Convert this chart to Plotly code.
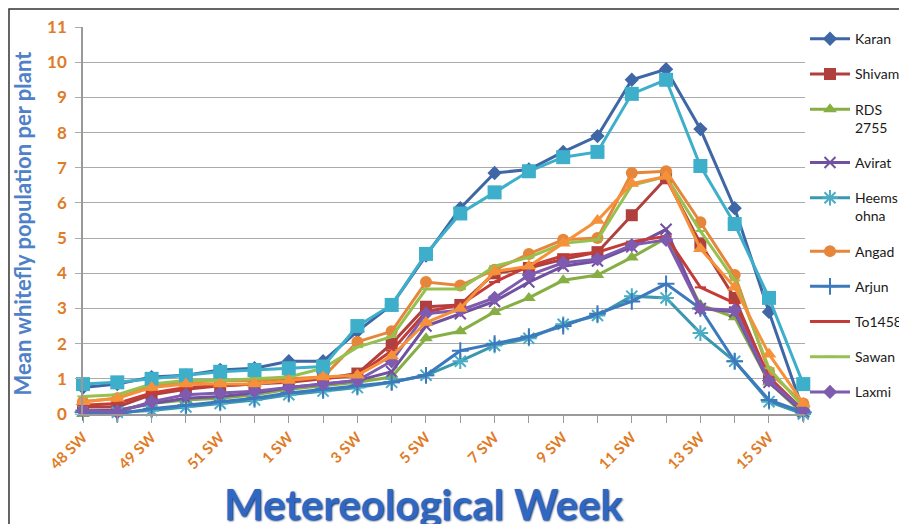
import plotly.graph_objects as go

# ---- data -------------------------------------------------------------
n_points = 22
tick_labels = ["48 SW", "49 SW", "51 SW", "1 SW", "3 SW", "5 SW",
               "7 SW", "9 SW", "11 SW", "13 SW", "15 SW"]

karan      = [0.75, 0.85, 1.05, 1.10, 1.25, 1.30, 1.50, 1.50, 2.35, 3.10, 4.50,
              5.85, 6.85, 6.95, 7.45, 7.90, 9.50, 9.80, 8.10, 5.85, 2.90, 0.10]
shivam     = [0.20, 0.20, 0.55, 0.70, 0.80, 0.85, 0.90, 1.00, 1.15, 2.00, 3.05,
              3.10, 4.00, 4.15, 4.40, 4.60, 5.65, 6.70, 4.85, 3.30, 1.00, 0.10]
rds2755    = [0.00, 0.10, 0.30, 0.40, 0.45, 0.55, 0.70, 0.80, 0.90, 1.05, 2.15,
              2.35, 2.90, 3.30, 3.80, 3.95, 4.45, 5.00, 3.10, 2.75, 0.90, 0.00]
avirat     = [0.10, 0.10, 0.30, 0.45, 0.50, 0.60, 0.75, 0.85, 0.95, 1.20, 2.50,
              2.85, 3.20, 3.75, 4.20, 4.35, 4.75, 5.25, 3.00, 2.90, 0.90, 0.05]
heemsohna  = [0.10, 0.05, 0.10, 0.20, 0.30, 0.40, 0.55, 0.65, 0.75, 0.90, 1.10,
              1.50, 1.95, 2.15, 2.55, 2.80, 3.35, 3.30, 2.30, 1.50, 0.35, 0.00]
angad      = [0.35, 0.45, 0.80, 0.90, 0.95, 0.95, 1.00, 1.05, 2.05, 2.35, 3.75,
              3.65, 4.10, 4.55, 4.95, 5.00, 6.85, 6.90, 5.45, 3.95, 1.20, 0.30]
arjun      = [0.05, 0.00, 0.15, 0.25, 0.35, 0.45, 0.60, 0.70, 0.80, 0.90, 1.10,
              1.80, 2.00, 2.20, 2.50, 2.85, 3.20, 3.70, 3.00, 1.50, 0.40, 0.05]
to1458     = [0.25, 0.30, 0.60, 0.75, 0.80, 0.85, 0.95, 1.00, 1.10, 1.80, 2.90,
              3.10, 3.75, 4.20, 4.50, 4.60, 4.90, 5.05, 3.60, 3.15, 1.05, 0.10]
sawan      = [0.50, 0.55, 0.85, 0.95, 0.95, 1.00, 1.05, 1.30, 1.90, 2.20, 3.55,
              3.55, 4.20, 4.45, 4.85, 4.95, 6.50, 6.75, 5.20, 3.80, 1.30, 0.20]
laxmi      = [0.10, 0.05, 0.35, 0.55, 0.60, 0.65, 0.75, 0.85, 0.95, 1.50, 2.85,
              2.95, 3.30, 3.95, 4.30, 4.40, 4.80, 4.95, 3.00, 2.95, 0.95, 0.10]
series11   = [0.85, 0.90, 1.00, 1.10, 1.20, 1.25, 1.30, 1.35, 2.50, 3.10, 4.55,
              5.70, 6.30, 6.90, 7.30, 7.45, 9.10, 9.50, 7.05, 5.40, 3.30, 0.85]
series12   = [0.35, 0.45, 0.75, 0.85, 0.85, 0.85, 0.95, 1.05, 1.10, 1.65, 2.60,
              3.00, 4.05, 4.20, 4.85, 5.50, 6.55, 6.75, 4.70, 3.60, 1.70, 0.30]

# ---- styling ------------------------------------------------------------
x = list(range(n_points))
tickvals = x[::2]

series = [
    ("Karan", karan, "#3F66A5", "#3F66A5", "diamond", 11, True),
    ("Shivam", shivam, "#B0403D", "#B0403D", "square", 12, True),
    ("RDS<br>2755", rds2755, "#86AE43", "#86AE43", "triangle-up", 12, True),
    ("Avirat", avirat, "#7150A0", "#7150A0", "x-thin-open", 11, True),
    ("Heems<br>ohna", heemsohna, "#3A98AE", "#4BACC6", "asterisk-open", 13, True),
    ("Angad", angad, "#E5863B", "#E5863B", "circle", 12, True),
    ("Arjun", arjun, "#3C79BD", "#3C79BD", "cross-thin-open", 12, True),
    ("To1458", to1458, "#C43B37", "#C43B37", "line-ew-open", 8, True),
    ("Sawan", sawan, "#96C150", "#96C150", "line-ew-open", 8, True),
    ("Laxmi", laxmi, "#7E5BAE", "#7E5BAE", "diamond", 11, True),
    ("Series 11", series11, "#3EAFCB", "#3EAFCB", "square", 14, False),
    ("Series 12", series12, "#F5913A", "#F5913A", "triangle-up", 13, False),
]

fig = go.Figure()
for name, vals, lcol, mcol, sym, size, show in series:
    open_sym = sym.endswith("-open")
    fig.add_trace(go.Scatter(
        x=x, y=vals, name=name, mode="lines+markers",
        legendgroup=name, showlegend=show,
        line=dict(color=lcol, width=3),
        marker=dict(symbol=sym, size=size, color=mcol,
                    line=dict(color=mcol, width=2 if open_sym else 0)),
        cliponaxis=False,
    ))

orange = "#E07B26"
fig.update_layout(
    width=907, height=524,
    margin=dict(l=75, r=110, t=19, b=117.5, autoexpand=False),
    paper_bgcolor="white", plot_bgcolor="white",
    font=dict(family="Lato, Open Sans, sans-serif", color="#222"),
    showlegend=True,
    legend=dict(x=1.0, y=1.01, xanchor="left", yanchor="top",
                font=dict(size=14, color="#1a1a1a"),
                tracegroupgap=14, valign="top", maxheight=700,
                bgcolor="rgba(0,0,0,0)", itemwidth=40),
    xaxis=dict(range=[0, 21.05], tickmode="array", tickvals=tickvals,
               ticktext=tick_labels, tickangle=-45,
               tickfont=dict(size=15, color=orange, family="Lato", weight="bold"),
               showgrid=False, zeroline=False, showline=True,
               linecolor="#9A9A9A", linewidth=1.5,
               ticks="outside", ticklen=7, tickcolor="#9A9A9A",
               minor=dict(tickmode="linear", tick0=0, dtick=1, ticks="outside",
                          ticklen=7, tickcolor="#9A9A9A", showgrid=False)),
    yaxis=dict(range=[0, 11], dtick=1, tick0=0,
               tickfont=dict(size=17, color=orange, family="Lato", weight="bold"),
               showgrid=True, gridcolor="#ABABAB", gridwidth=1,
               zeroline=False, showline=True, linecolor="#9A9A9A", linewidth=1.5,
               ticks="outside", ticklen=6, tickcolor="#ABABAB",
               ticklabelstandoff=5),
)

# axis titles
fig.add_annotation(text="<b>Mean whitefly population per plant</b>",
                   xref="paper", yref="paper", x=-0.0845, y=0.495,
                   xanchor="center", yanchor="middle", textangle=-90,
                   showarrow=False,
                   font=dict(size=22, color="#4F81C8", family="Lato"))
fig.add_annotation(text="<b>Metereological Week</b>",
                   xref="paper", yref="paper", x=0.471, y=-0.164,
                   xanchor="center", yanchor="top", showarrow=False,
                   font=dict(size=42, color="#2F68C2", family="Lato",
                             shadow="1px 1px 2px #0E3478"))

# outer chart frame
fig.add_shape(type="rect", xref="paper", yref="paper",
              x0=-0.1025, x1=1.2, y0=-0.35, y1=1.0465,
              line=dict(color="#333333", width=1.5), layer="below")

fig.write_html("out.html")
